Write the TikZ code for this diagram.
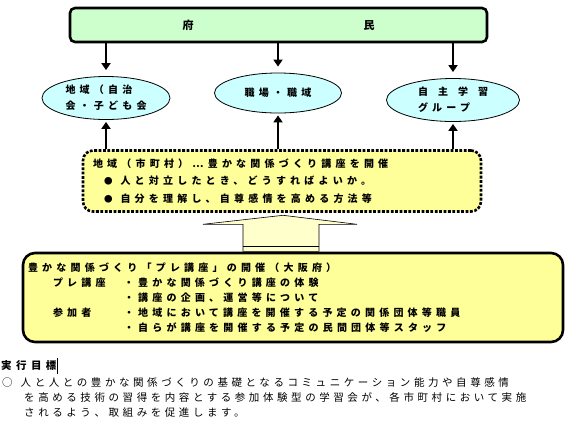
\documentclass[tikz,border=0pt]{standalone}
\usepackage{fontspec}
\newfontfamily\jp[LetterSpace=42]{Noto Sans CJK JP}
\newfontfamily\jpbody[LetterSpace=34]{Noto Sans CJK JP}
\usetikzlibrary{arrows.meta,positioning,calc,shapes.geometric}
\definecolor{ink}{RGB}{0,0,0}
\definecolor{fugreen}{RGB}{204,255,204}
\definecolor{fucyan}{RGB}{204,255,255}
\definecolor{fuyel}{RGB}{255,255,153}
\definecolor{fupale}{RGB}{255,255,204}
\tikzset{
  topbox/.style={draw=ink,line width=2.6pt,rounded corners=5pt,fill=fugreen,
    minimum width=417pt,minimum height=34pt,inner sep=0pt,
    font=\jp\bfseries\fontsize{11}{13}\selectfont},
  oval/.style={ellipse,draw=ink,line width=0.8pt,fill=fucyan,inner sep=0pt,
    align=left,font=\jp\bfseries\fontsize{10}{16}\selectfont},
  region/.style={draw=ink,line width=2.6pt,dash pattern=on 2.8pt off 1.6pt,
    rounded corners=10pt,fill=fuyel,minimum width=398pt,minimum height=61pt,
    inner xsep=10pt,text width=378pt,align=left,
    font=\jp\bfseries\fontsize{10}{17.5}\selectfont},
  prebox/.style={draw=ink,line width=2.6pt,rounded corners=12pt,fill=fuyel,
    minimum width=540pt,minimum height=89pt,inner xsep=5pt,text width=530pt,
    align=left,font=\jp\bfseries\fontsize{10}{15}\selectfont},
  arr/.style={-{Triangle[width=9pt,length=7pt]},line width=2.6pt,ink},
  blk/.style={draw=ink,line width=0.6pt,fill=fupale},
  txt/.style={inner sep=0pt,align=left},
}
\newcommand{\prelbl}[1]{\makebox[71pt][l]{#1}}
\newcommand{\dotbul}{{\fontsize{8.5}{8.5}\selectfont●}}

\begin{document}
\begin{tikzpicture}[x=1pt,y=-1pt]
  \useasboundingbox (0,0) rectangle (588,426);
  % top: residents
  \node[topbox] (top) at (278.5,25) {府\hspace{170pt}民};
  % three places
  \node[oval,minimum width=128pt,minimum height=43pt] (lft) at (106,98)
    {地域（自治\\会・子ども会};
  \node[oval,minimum width=127pt,minimum height=40pt] (mid) at (278,93)
    {職場・職域};
  \node[oval,minimum width=133pt,minimum height=43pt] (rgt) at (453,100)
    {自\quad 主\quad 学\quad 習\\グループ};
  \foreach \n in {lft,mid,rgt}
    \draw[arr,shorten >=6pt] (top.south -| \n.north) -- (\n.north);
  % municipal course
  \node[region] (reg) at (282,181)
    {地域（市町村）⋯豊かな関係づくり講座を開催\\
     \hspace{11pt}\dotbul\hspace{8pt}人と対立したとき、どうすればよいか。\\
     \hspace{11pt}\dotbul\hspace{8pt}自分を理解し、自尊感情を高める方法等};
  \foreach \n in {lft,mid,rgt}
    \draw[arr,shorten >=2pt] (reg.north -| \n.south) -- (\n.south);
  % prefecture pre-course
  \node[prebox] (pre) at (293,297.5)
    {豊かな関係づくり「プレ講座」の開催（大阪府）\\
     \hspace{25pt}\prelbl{プレ講座}・豊かな関係づくり講座の体験\\
     \hspace{25pt}\prelbl{}・講座の企画、運営等について\\
     \hspace{25pt}\prelbl{参加者}・地域において講座を開催する予定の関係団体等職員\\
     \hspace{25pt}\prelbl{}・自らが講座を開催する予定の民間団体等スタッフ};
  \draw[blk] ($(reg.south)+(-39,38.5)$) -- ($(reg.south)+(-39,11.5)$)
    -- ($(reg.south)+(-79,11.5)$) -- ($(reg.south)+(1,2.5)$)
    -- ($(reg.south)+(75,11.5)$) -- ($(reg.south)+(37,11.5)$)
    -- ($(reg.south)+(37,38.5)$) -- cycle;
  \draw[line width=0.6pt] ($(reg.south)+(-39,33)$) -- ($(reg.south)+(37,33)$);
  % goal
  \node[txt,anchor=west,inner ysep=3pt,font=\jp\bfseries\fontsize{10.5}{12}\selectfont]
    (goal) at (1,366) {実行目標};
  \draw[line width=0.6pt] ([xshift=1pt]goal.north east) -- ([xshift=1pt]goal.south east);
  \node[txt,anchor=north west,font=\jpbody\fontsize{10.5}{15}\selectfont] (aim) at (2,377)
    {○\hspace{8pt}人と人との豊かな関係づくりの基礎となるコミュニケーション能力や自尊感情\\
     \hspace{22pt}を高める技術の習得を内容とする参加体験型の学習会が、各市町村において実施\\
     \hspace{22pt}されるよう、取組みを促進します。};
\end{tikzpicture}
\end{document}
